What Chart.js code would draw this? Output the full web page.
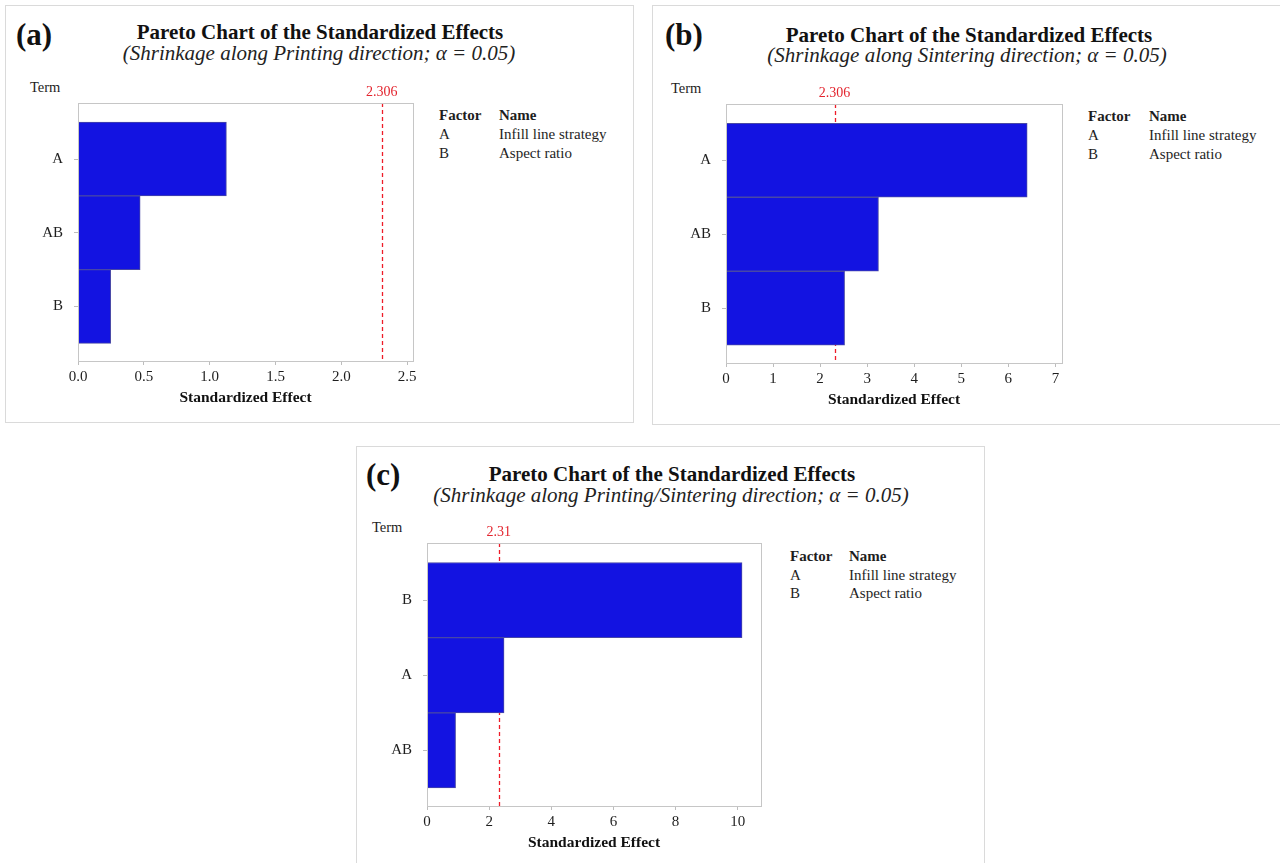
<!DOCTYPE html>
<html>
<head>
<meta charset="utf-8">
<script src="https://cdn.jsdelivr.net/npm/chart.js@4.4.1/dist/chart.umd.min.js"></script>
<style>
  body { margin: 0; width: 1280px; height: 863px; background: #fff; position: relative; overflow: hidden;
         font-family: 'Liberation Serif', 'Times New Roman', serif; color: #1e1e1e; }
  .panel { position: absolute; border: 1px solid #dadada; box-sizing: border-box; }
  .txt { position: absolute; white-space: nowrap; line-height: 1; }
  .lbl { font-weight: bold; font-size: 31px; color: #111; }
  .ttl { font-weight: bold; font-size: 21px; transform: translateX(-50%); color: #111; }
  .sub { font-style: italic; font-size: 21px; transform: translateX(-50%); color: #222; }
  .term { font-size: 14.5px; }
  .leg { font-size: 15px; }
  .legh { font-size: 15px; font-weight: bold; }
  canvas { position: absolute; }
</style>
</head>
<body>
<script>
// panel (a): shrinkage along printing direction
const termsA = ['A', 'AB', 'B'];
const effectsA = [1.127, 0.472, 0.248];
const limitA = 2.306;
const xTicksA = [0, 0.5, 1.0, 1.5, 2.0, 2.5];

// panel (b): shrinkage along sintering direction
const termsB = ['A', 'AB', 'B'];
const effectsB = [6.40, 3.24, 2.52];
const limitB = 2.306;
const xTicksB = [0, 1, 2, 3, 4, 5, 6, 7];

// panel (c): printing/sintering direction
const termsC = ['B', 'A', 'AB'];
const effectsC = [10.14, 2.48, 0.92];
const limitC = 2.31;
const xTicksC = [0, 2, 4, 6, 8, 10];

const factorCodes = ['A', 'B'];
const factorNames = ['Infill line strategy', 'Aspect ratio'];

const mainTitle = 'Pareto Chart of the Standardized Effects';

Chart.defaults.font.family = "'Liberation Serif', 'Times New Roman', serif";
Chart.defaults.color = '#1e1e1e';
Chart.defaults.animation = false;

const refLine = {
  id: 'refLine',
  beforeDatasetsDraw(chart, args, opts) {
    const { ctx, chartArea } = chart;
    const x = Math.round(chart.scales.x.getPixelForValue(opts.value)) + 0.5;
    ctx.save();
    ctx.strokeStyle = '#ee1c28';
    ctx.lineWidth = 1.3;
    ctx.setLineDash([4, 3]);
    ctx.beginPath();
    ctx.moveTo(x, chartArea.top);
    ctx.lineTo(x, chartArea.bottom);
    ctx.stroke();
    ctx.restore();
  },
  afterDatasetsDraw(chart) {
    const { ctx, chartArea: a } = chart;
    ctx.save();
    ctx.strokeStyle = '#c6c6c6';
    ctx.lineWidth = 1;
    ctx.strokeRect(Math.round(a.left) + 0.5, Math.round(a.top) + 0.5,
      Math.round(a.right - a.left), Math.round(a.bottom - a.top));
    ctx.restore();
  },
  afterDraw(chart, args, opts) {
    const { ctx, chartArea } = chart;
    const x = chart.scales.x.getPixelForValue(opts.value);
    ctx.save();
    ctx.fillStyle = '#e3242e';
    ctx.font = "14px 'Liberation Serif'";
    ctx.textAlign = 'center';
    ctx.textBaseline = 'middle';
    ctx.fillText(String(opts.value), x, chartArea.top - 11);
    ctx.restore();
  }
};

function addText(cls, text, left, cy, size) {
  const d = document.createElement('div');
  d.className = 'txt ' + cls;
  d.textContent = text;
  d.style.left = left + 'px';
  d.style.top = (cy - size * 0.55) + 'px';
  document.body.appendChild(d);
}

function makePanel(p, terms, effects, limit, xTicks, xMax, decimals) {
  const box = document.createElement('div');
  box.className = 'panel';
  box.style.left = p.box[0] + 'px';
  box.style.top = p.box[1] + 'px';
  box.style.width = (p.box[2] - p.box[0]) + 'px';
  box.style.height = (p.box[3] - p.box[1]) + 'px';
  document.body.appendChild(box);

  addText('lbl', p.tag, p.tagX, p.tagY, 31);
  addText('ttl', mainTitle, p.titleX, p.titleY, 21);
  addText('sub', p.subtitle, p.subX, p.subY, 21);
  addText('term', 'Term', p.termX, p.termY, 14.5);
  addText('legh', 'Factor', p.legX, p.legY[0], 15);
  addText('legh', 'Name', p.nameX, p.legY[0], 15);
  factorCodes.forEach((c, i) => {
    addText('leg', c, p.legX, p.legY[i + 1], 15);
    addText('leg', factorNames[i], p.nameX, p.legY[i + 1], 15);
  });

  const [l, t, r, b] = p.plot;
  const canvas = document.createElement('canvas');
  const w = (r - l) + 70, h = (b - t) + 30 + 46;
  canvas.width = w;
  canvas.height = h;
  canvas.style.left = (l - 60) + 'px';
  canvas.style.top = (t - 30) + 'px';
  canvas.style.width = w + 'px';
  canvas.style.height = h + 'px';
  document.body.appendChild(canvas);

  new Chart(canvas.getContext('2d'), {
    type: 'bar',
    data: {
      datasets: [{
        data: effects.map((v, i) => ({ x: v, y: i + 1 })),
        backgroundColor: '#1313e1',
        borderColor: '#4848a6',
        borderWidth: 1,
        barPercentage: 1,
        categoryPercentage: 1
      }]
    },
    options: {
      indexAxis: 'y',
      responsive: false,
      layout: { padding: { left: 0, top: 30, right: 10, bottom: 0 } },
      plugins: {
        legend: { display: false },
        tooltip: { enabled: false },
        refLine: { value: limit }
      },
      scales: {
        x: {
          type: 'linear',
          min: 0,
          max: xMax,
          offset: false,
          afterBuildTicks: (s) => { s.ticks = xTicks.map(v => ({ value: v })); },
          afterFit: (s) => { s.height = 46; },
          ticks: {
            font: { size: 15 },
            padding: 3,
            maxRotation: 0,
            autoSkip: false,
            callback: (v) => Number(v).toFixed(decimals)
          },
          grid: { drawOnChartArea: false, drawTicks: true, tickLength: 4, color: '#bdbdbd', offset: false },
          border: { display: false },
          title: {
            display: true,
            text: 'Standardized Effect',
            font: { size: 15.5, weight: 'bold' },
            padding: { top: 0, bottom: 0 },
            color: '#111'
          }
        },
        y: {
          type: 'linear',
          reverse: true,
          min: 0.24,
          max: 3.74,
          offset: false,
          afterBuildTicks: (s) => { s.ticks = terms.map((tm, i) => ({ value: i + 1 })); },
          afterFit: (s) => { s.width = 60; },
          ticks: {
            font: { size: 15 },
            padding: 11,
            autoSkip: false,
            callback: (v) => terms[Math.round(v) - 1] || ''
          },
          grid: { drawOnChartArea: false, drawTicks: true, tickLength: 4, color: '#bdbdbd', offset: false },
          border: { display: false }
        }
      }
    },
    plugins: [refLine]
  });
}

makePanel({
  box: [5, 5, 634, 423], tag: '(a)', tagX: 16, tagY: 36,
  titleX: 320, titleY: 34, subtitle: '(Shrinkage along Printing direction; \u03b1 = 0.05)', subX: 319, subY: 55,
  termX: 30, termY: 88, legX: 439, nameX: 499, legY: [116, 135, 154],
  plot: [78, 103, 413, 361]
}, termsA, effectsA, limitA, xTicksA, 2.544, 1);

makePanel({
  box: [652, 5, 1285, 425], tag: '(b)', tagX: 665, tagY: 36,
  titleX: 969, titleY: 37, subtitle: '(Shrinkage along Sintering direction; \u03b1 = 0.05)', subX: 967, subY: 57,
  termX: 671, termY: 89, legX: 1088, nameX: 1149, legY: [117, 136, 155],
  plot: [726, 104, 1062, 363]
}, termsB, effectsB, limitB, xTicksB, 7.14, 0);

makePanel({
  box: [356, 446, 985, 870], tag: '(c)', tagX: 366, tagY: 476,
  titleX: 672, titleY: 476, subtitle: '(Shrinkage along Printing/Sintering direction; \u03b1 = 0.05)', subX: 671, subY: 497,
  termX: 372, termY: 528, legX: 790, nameX: 849, legY: [557, 576, 594],
  plot: [427, 543, 761, 806]
}, termsC, effectsC, limitC, xTicksC, 10.75, 0);
</script>
</body>
</html>
